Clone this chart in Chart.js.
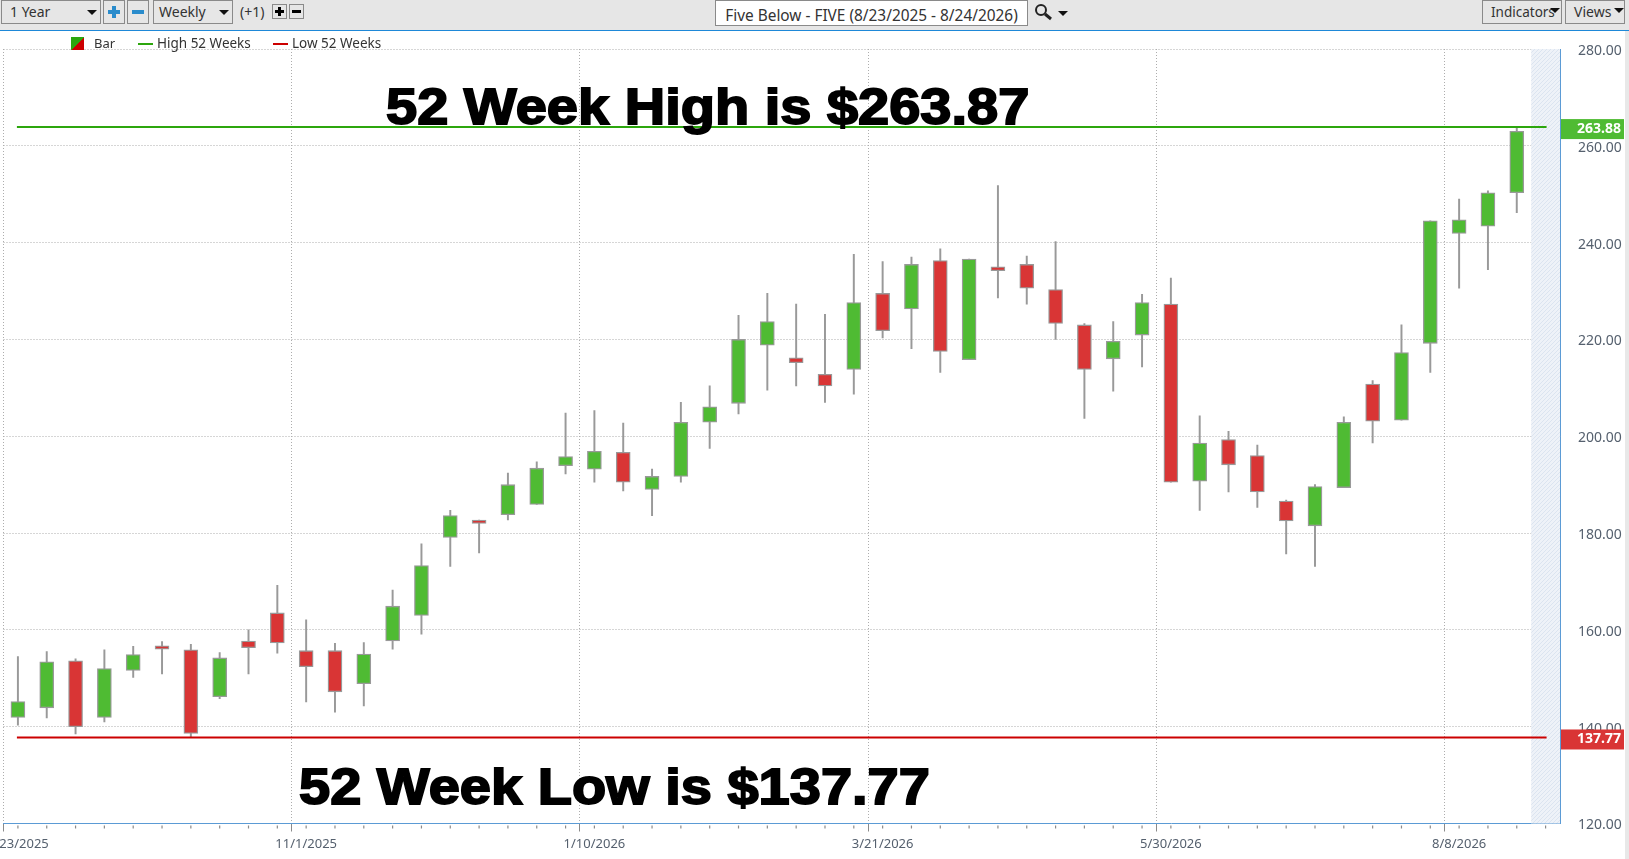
<!DOCTYPE html>
<html>
<head>
<meta charset="utf-8">
<title>Five Below - FIVE</title>
<script src="https://cdn.jsdelivr.net/npm/chart.js@4"></script>
<style>
  html, body { margin: 0; padding: 0; background: #fff; overflow: hidden; }
  body { width: 1629px; height: 859px; position: relative; font-family: "Noto Sans", sans-serif; color: #333; }
  canvas { position: absolute; left: 0; top: 0; }
  .bar { position: absolute; left: 0; top: 0; width: 1629px; height: 30px; background: #e6e6e6; border-bottom: 1px solid #1e88d8; }
  .box { position: absolute; box-sizing: border-box; border: 1px solid #8a8a8a; top: 0; height: 24px; font-size: 14px; line-height: 23px; white-space: nowrap; }
  .arrow { position: absolute; width: 0; height: 0; border-left: 5px solid transparent; border-right: 5px solid transparent; border-top: 5px solid #111; }
  .icon { position: absolute; background-repeat: no-repeat; background-position: center; }
  .legend { position: absolute; top: 34px; font-size: 13.5px; line-height: 18px; white-space: nowrap; }
  .ln { position: absolute; top: 43px; width: 15px; height: 2px; }
  .big { position: absolute; font-family: "Liberation Sans", Arial, sans-serif; font-weight: 700; font-size: 50px; line-height: 50px; color: #000; -webkit-text-stroke: 1.8px #000; white-space: nowrap; transform-origin: left top; transform: scaleX(1.12); }
</style>
</head>
<body>
<canvas id="FIVEgraph" width="1629" height="859"></canvas>

<div class="bar">
  <div class="box" style="left:1px;width:100px;padding-left:8px;line-height:22px;">1 Year</div>
  <div class="arrow" style="left:87px;top:10px;"></div>
  <div class="box" style="left:103px;width:22px;"></div>
  <div class="icon" style="left:108px;top:6px;width:12px;height:12px;background-image:linear-gradient(#2a8ccc,#2a8ccc),linear-gradient(#2a8ccc,#2a8ccc);background-size:12px 4px,4px 12px;"></div>
  <div class="box" style="left:127px;width:22px;"></div>
  <div class="icon" style="left:132px;top:6px;width:12px;height:12px;background-image:linear-gradient(#2a8ccc,#2a8ccc);background-size:12px 4px;"></div>
  <div class="box" style="left:153px;width:80px;padding-left:5px;line-height:22px;">Weekly</div>
  <div class="arrow" style="left:219px;top:10px;"></div>
  <div style="position:absolute;left:240px;top:0;font-size:14px;line-height:24px;">(+1)</div>
  <div class="box" style="left:272px;top:4px;width:15px;height:15px;"></div>
  <div class="icon" style="left:275px;top:7px;width:9px;height:9px;background-image:linear-gradient(#000,#000),linear-gradient(#000,#000);background-size:9px 3px,3px 9px;"></div>
  <div class="box" style="left:289px;top:4px;width:15px;height:15px;"></div>
  <div class="icon" style="left:292px;top:7px;width:9px;height:9px;background-image:linear-gradient(#000,#000);background-size:9px 3px;"></div>
  <div class="box" style="left:715px;width:313px;height:26px;background:#fff;text-align:center;line-height:30px;font-size:15.4px;">Five Below - FIVE (8/23/2025 - 8/24/2026)</div>
  <svg style="position:absolute;left:1034px;top:3px;" width="20" height="18"><circle cx="7" cy="7" r="5" fill="none" stroke="#222" stroke-width="2"/><line x1="11" y1="11" x2="17" y2="16" stroke="#222" stroke-width="3"/></svg>
  <div class="arrow" style="left:1058px;top:11px;"></div>
  <div class="box" style="left:1482px;width:80px;padding-left:8px;font-size:13.5px;line-height:22px;">Indicators</div>
  <div class="arrow" style="left:1550px;top:8px;"></div>
  <div class="box" style="left:1565px;width:60px;padding-left:8px;line-height:22px;">Views</div>
  <div class="arrow" style="left:1614px;top:8px;"></div>
</div>

<div style="position:absolute;left:71px;top:37px;width:13px;height:13px;background:linear-gradient(to bottom right,#2ca60d 50%,#cc0000 50%);"></div>
<div class="legend" style="left:94px;font-size:13px;">Bar</div>
<div class="ln" style="left:138px;background:#2ca60d;"></div>
<div class="legend" style="left:157px;">High 52 Weeks</div>
<div class="ln" style="left:273px;background:#cc0000;"></div>
<div class="legend" style="left:292px;">Low 52 Weeks</div>

<div class="big" id="highNote" style="left:386px;top:82px;"></div>
<div class="big" id="lowNote" style="left:299px;top:762px;"></div>

<div style="position:absolute;left:1625px;top:31px;width:4px;height:828px;background:#e8e8e8;"></div>

<script>
const weeks = [
  '8/23/2025','8/30/2025','9/6/2025','9/13/2025','9/20/2025','9/27/2025','10/4/2025','10/11/2025','10/18/2025','10/25/2025',
  '11/1/2025','11/8/2025','11/15/2025','11/22/2025','11/29/2025','12/6/2025','12/13/2025','12/20/2025','12/27/2025','1/3/2026',
  '1/10/2026','1/17/2026','1/24/2026','1/31/2026','2/7/2026','2/14/2026','2/21/2026','2/28/2026','3/7/2026','3/14/2026',
  '3/21/2026','3/28/2026','4/4/2026','4/11/2026','4/18/2026','4/25/2026','5/2/2026','5/9/2026','5/16/2026','5/23/2026',
  '5/30/2026','6/6/2026','6/13/2026','6/20/2026','6/27/2026','7/4/2026','7/11/2026','7/18/2026','7/25/2026','8/1/2026',
  '8/8/2026','8/15/2026','8/22/2026','8/29/2026'
];
const opens = [
  141.9,143.9,153.6,141.9,151.6,156.7,155.9,146.2,157.7,163.5,
  155.7,155.7,148.9,157.7,163.0,179.1,182.7,183.8,185.9,193.9,
  193.2,196.7,189.0,191.7,202.9,206.8,218.8,216.2,212.8,213.8,
  229.5,226.3,236.3,215.8,235.0,235.5,230.3,223.0,216.0,220.9,
  227.3,190.7,199.3,196.0,186.6,181.5,189.4,210.8,203.3,219.2,
  241.9,243.4,250.3
];
const closes = [
  145.2,153.4,140.0,152.0,154.9,156.0,138.6,154.2,156.3,157.3,
  152.4,147.2,155.0,164.9,173.3,183.6,182.0,190.0,193.4,195.8,
  196.9,190.5,191.7,202.9,206.1,220.0,223.7,215.2,210.4,227.6,
  221.8,235.5,217.5,236.6,234.2,230.6,223.3,213.8,219.6,227.6,
  190.5,198.6,194.1,188.5,182.5,189.6,202.9,203.1,217.3,244.5,
  244.7,250.3,263.0
];
const highs = [
  154.5,155.5,154.0,155.9,156.6,157.6,157.0,155.3,160.0,169.2,
  162.1,157.2,157.4,168.2,177.8,184.7,182.7,192.4,194.7,204.8,
  205.3,202.7,193.2,207.0,210.4,225.0,229.5,227.3,225.2,237.6,
  236.1,237.0,238.7,236.6,251.8,237.2,240.2,223.3,223.7,229.3,
  232.7,204.2,201.0,198.2,186.8,190.0,204.0,211.5,223.0,244.5,
  249.0,250.7,263.6
];
const lows = [
  140.3,141.8,138.5,141.0,150.2,150.9,137.9,145.8,150.9,155.2,
  145.1,143.0,144.3,156.0,159.1,173.1,175.9,182.7,185.9,192.2,
  190.5,188.7,183.6,190.5,197.5,204.6,209.5,210.4,207.0,208.7,
  220.3,218.1,213.2,215.8,228.6,227.3,220.0,203.7,209.3,214.3,
  190.5,184.7,188.5,185.3,175.7,173.1,189.4,198.6,203.3,213.2,
  230.6,234.4,246.2
];
const high52Dates = ['8/23/2025','8/29/2026'];
const high52Values = [263.87,263.87];
const low52Values = [137.77,137.77];
const priceTicks = [120,140,160,180,200,220,240,260,280];
const highBadge = '263.88';
const lowBadge = '137.77';
const highNote = '52 Week High is $263.87';
const lowNote = '52 Week Low is $137.77';

document.getElementById('highNote').textContent = highNote;
document.getElementById('lowNote').textContent = lowNote;

const GREEN = '#4fbb33';
const RED = '#d93535';
const GREY = '#999999';
const GRIDLINE = '#adadad';
const dotted = [1, 2];

const bodyColors = opens.map((o, i) => closes[i] >= o ? GREEN : RED);
const bodies = opens.map((o, i) => [Math.min(o, closes[i]), Math.max(o, closes[i])]);
const wicks = lows.map((l, i) => [l, highs[i]]);

// hatch for the empty week on the right
function hatch(ctx) {
  const c = document.createElement('canvas');
  c.width = 4; c.height = 4;
  const p = c.getContext('2d');
  p.fillStyle = '#eef2f8';
  p.fillRect(0, 0, 4, 4);
  p.strokeStyle = '#dbe4f0';
  p.lineWidth = 1;
  p.beginPath(); p.moveTo(0, 4); p.lineTo(4, 0); p.stroke();
  return ctx.createPattern(c, 'repeat');
}

const extras = {
  id: 'extras',
  beforeDatasetsDraw(chart) {
    const { ctx, chartArea, scales: { x } } = chart;
    const last = x.getPixelForTick(weeks.length - 1);
    const half = x.getPixelForTick(1) - x.getPixelForTick(0);
    ctx.save();
    ctx.fillStyle = hatch(ctx);
    ctx.fillRect(last - half / 2, chartArea.top, half / 2 + chartArea.right - last, chartArea.bottom - chartArea.top);
    ctx.restore();
  },
  afterDraw(chart) {
    const { ctx, chartArea, scales: { x, y } } = chart;
    ctx.save();
    // small week ticks under each candle
    ctx.strokeStyle = '#8a8a8a';
    ctx.lineWidth = 1.2;
    weeks.forEach((w, i) => {
      const px = x.getPixelForTick(i);
      ctx.beginPath();
      ctx.moveTo(px, chartArea.bottom + 2);
      ctx.lineTo(px, chartArea.bottom + 5);
      ctx.stroke();
    });
    // price badges on the axis
    ctx.font = 'bold 14px "Noto Sans", sans-serif';
    ctx.textAlign = 'right';
    ctx.textBaseline = 'middle';
    [[highBadge, high52Values[0], GREEN], [lowBadge, low52Values[0], RED]].forEach(([text, v, col]) => {
      const py = y.getPixelForValue(v);
      ctx.fillStyle = col;
      ctx.fillRect(chartArea.right + 1, py - 8, 63, 20);
      ctx.fillStyle = '#fff';
      ctx.fillText(text, chartArea.right + 61, py + 2);
    });
    ctx.restore();
  }
};

const FIVEcanva = document.getElementById('FIVEgraph');

var FIVEchart = new Chart(FIVEcanva, {
  type: 'bar',
  data: {
    labels: weeks,
    datasets: [
      {
        type: 'line',
        label: 'High 52 Weeks',
        data: high52Dates.map((d, i) => ({ x: d, y: high52Values[i] })),
        borderColor: '#2ca60d',
        borderWidth: 2,
        borderCapStyle: 'square',
        pointRadius: 0,
        order: 0
      },
      {
        type: 'line',
        label: 'Low 52 Weeks',
        data: high52Dates.map((d, i) => ({ x: d, y: low52Values[i] })),
        borderColor: '#cc0000',
        borderWidth: 2,
        borderCapStyle: 'square',
        pointRadius: 0,
        order: 0
      },
      {
        label: 'Bar',
        data: bodies,
        backgroundColor: bodyColors,
        borderColor: GREY,
        borderWidth: 1.3,
        borderSkipped: false,
        barThickness: 14,
        grouped: false,
        order: 1
      },
      {
        label: 'Range',
        data: wicks,
        backgroundColor: GREY,
        borderWidth: 0,
        barThickness: 1.3,
        grouped: false,
        order: 2
      }
    ]
  },
  options: {
    responsive: false,
    animation: false,
    devicePixelRatio: 1,
    layout: { padding: { left: 3.5, right: 0, top: 49, bottom: 0 } },
    plugins: { legend: { display: false }, tooltip: { enabled: false } },
    scales: {
      x: {
        type: 'category',
        offset: true,
        grid: {
          offset: true,
          color: (c) => c.index % 10 === 0 ? GRIDLINE : 'rgba(0,0,0,0)',
          tickColor: (c) => c.index % 10 === 0 ? '#8a8a8a' : 'rgba(0,0,0,0)',
          tickLength: 8,
          tickWidth: 1,
          lineWidth: 1
        },
        border: { display: true, color: '#5b9bd5', dash: dotted },
        ticks: {
          autoSkip: false,
          maxRotation: 0,
          padding: 5,
          color: '#55606e',
          font: { family: '"Noto Sans", sans-serif', size: 13 },
          callback: function (v, i) { return i % 10 === 0 ? this.getLabelForValue(v) : ''; }
        },
        afterFit: (s) => { s.height = 35.5; s.paddingLeft = 0; s.paddingRight = 0; }
      },
      y: {
        position: 'right',
        min: 120,
        max: 280,
        grid: {
          color: (c) => c.tick && c.tick.value === 120 ? 'rgba(0,0,0,0)' : GRIDLINE,
          tickLength: 0,
          lineWidth: 1
        },
        border: { display: true, color: '#5b9bd5', dash: dotted },
        ticks: {
          stepSize: 20,
          padding: 18,
          labelOffset: 2,
          color: '#55606e',
          font: { family: '"Noto Sans", sans-serif', size: 14 },
          callback: (v) => priceTicks.includes(v) ? v.toFixed(2) : ''
        },
        afterFit: (s) => { s.width = 69; s.paddingTop = 0; s.paddingBottom = 0; }
      }
    }
  },
  plugins: [extras]
});
</script>
</body>
</html>
